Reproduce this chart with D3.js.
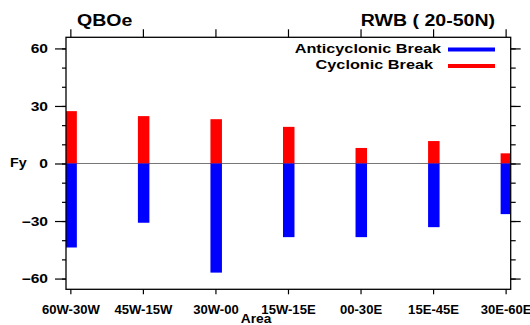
<!DOCTYPE html>
<html>
<head>
<meta charset="utf-8">
<script src="https://cdn.jsdelivr.net/npm/d3@7"></script>
<style>
  html, body { margin: 0; padding: 0; background: #fff; }
  svg { display: block; }
  text { font-family: "Liberation Sans", Arial, Helvetica, sans-serif; font-weight: bold; fill: #000; }
</style>
</head>
<body>
<svg id="chart" width="530" height="325"></svg>
<script>
// Rossby wave breaking: Fy per longitude band
const areas = ["60W-30W", "45W-15W", "30W-00", "15W-15E", "00-30E", "15E-45E", "30E-60E"];
const cyclonic = [27.3, 24.7, 23.1, 19.1, 8.1, 11.7, 5.3];
const anticyclonic = [-43.8, -30.9, -56.9, -38.4, -38.4, -33.2, -26.4];
const majorTicks = [-60, -30, 0, 30, 60];
const minorTicks = [-60, -50, -40, -30, -20, -10, 0, 10, 20, 30, 40, 50, 60];
const seriesNames = ["Anticyclonic Break", "Cyclonic Break"];
const seriesColors = ["#0000ff", "#ff0000"];

const L = 66, R = 510.7, T = 37.3, B = 289.3;
const svg = d3.select("#chart");

const x = d3.scaleLinear().domain([-0.06, 6.07]).range([L, R]);
const y = d3.scaleLinear().domain([-65.6, 65.8]).range([B, T]);

// widen text horizontally to a given factor of its natural width
function stretch(sel, f) {
  sel.each(function () {
    const w = this.getComputedTextLength();
    d3.select(this).attr("textLength", w * f).attr("lengthAdjust", "spacingAndGlyphs");
  });
}

svg.append("clipPath").attr("id", "plot")
  .append("rect").attr("x", L).attr("y", T).attr("width", R - L).attr("height", B - T);

// zero reference line
svg.append("line")
  .attr("x1", L).attr("x2", R).attr("y1", y(0)).attr("y2", y(0))
  .attr("stroke", "#777").attr("stroke-width", 1);

const bars = svg.append("g").attr("clip-path", "url(#plot)");
const bw = 11.5;
bars.selectAll("rect.cyc").data(cyclonic).join("rect")
  .attr("class", "cyc")
  .attr("x", (d, i) => x(i) - 5).attr("width", bw)
  .attr("y", d => y(d)).attr("height", d => y(0) - y(d))
  .attr("fill", seriesColors[1]);
bars.selectAll("rect.anti").data(anticyclonic).join("rect")
  .attr("class", "anti")
  .attr("x", (d, i) => x(i) - 5).attr("width", bw)
  .attr("y", y(0)).attr("height", d => y(d) - y(0))
  .attr("fill", seriesColors[0]);

// axes
const idx = d3.range(areas.length);
function styleAxis(g) {
  g.select(".domain").remove();
  g.selectAll(".tick line").attr("stroke", "#000").attr("stroke-width", 1.2);
}
svg.append("g").attr("transform", `translate(${L},0)`)
  .call(d3.axisLeft(y).tickValues(minorTicks).tickSize(4).tickFormat(""))
  .call(styleAxis);
const yl = svg.append("g").attr("transform", `translate(${L},0)`)
  .call(d3.axisLeft(y).tickValues(majorTicks).tickSize(11).tickPadding(7).tickFormat(d3.format("d")))
  .call(styleAxis);
yl.selectAll("text").attr("font-size", 12).attr("dy", "0.36em").attr("x", -18)
  .call(stretch, 1.3);

svg.append("g").attr("transform", `translate(${R},0)`)
  .call(d3.axisRight(y).tickValues(minorTicks).tickSize(5).tickFormat(""))
  .call(styleAxis);
svg.append("g").attr("transform", `translate(${R},0)`)
  .call(d3.axisRight(y).tickValues(majorTicks).tickSize(10).tickFormat(""))
  .call(styleAxis);

svg.append("g").attr("transform", `translate(0,${T})`)
  .call(d3.axisTop(x).tickValues(idx).tickSize(8).tickFormat(""))
  .call(styleAxis);
const xb = svg.append("g").attr("transform", `translate(0,${B})`)
  .call(d3.axisBottom(x).tickValues(idx).tickSize(5).tickFormat(i => areas[i]))
  .call(styleAxis);
xb.selectAll("text").attr("font-size", 12).attr("y", 24.5).attr("dy", 0)
  .call(stretch, 1.09);

// frame
svg.append("rect").attr("x", L).attr("y", T).attr("width", R - L).attr("height", B - T)
  .attr("fill", "none").attr("stroke", "#000").attr("stroke-width", 1.3);

// titles
svg.append("text").attr("x", 77).attr("y", 25.5).attr("font-size", 16).text("QBOe").call(stretch, 1.22);
svg.append("text").attr("x", 495).attr("y", 25.5).attr("font-size", 16).attr("text-anchor", "end")
  .text("RWB ( 20-50N)").call(stretch, 1.22);
svg.append("text").attr("x", 10).attr("y", 167).attr("font-size", 13).text("Fy").call(stretch, 1.1);
svg.append("text").attr("x", 256).attr("y", 323).attr("font-size", 12.5).attr("text-anchor", "middle")
  .text("Area").call(stretch, 1.1);

// legend
const legendY = [49.5, 66];
const legend = svg.append("g");
seriesNames.forEach((name, i) => {
  legend.append("text").attr("x", 441 - (i === 1 ? 8 : 0)).attr("y", legendY[i] + 3)
    .attr("font-size", 13).attr("text-anchor", "end").text(name).call(stretch, 1.25);
  legend.append("line").attr("x1", 448).attr("x2", 495)
    .attr("y1", legendY[i]).attr("y2", legendY[i])
    .attr("stroke", seriesColors[i]).attr("stroke-width", 4);
});
</script>
</body>
</html>
